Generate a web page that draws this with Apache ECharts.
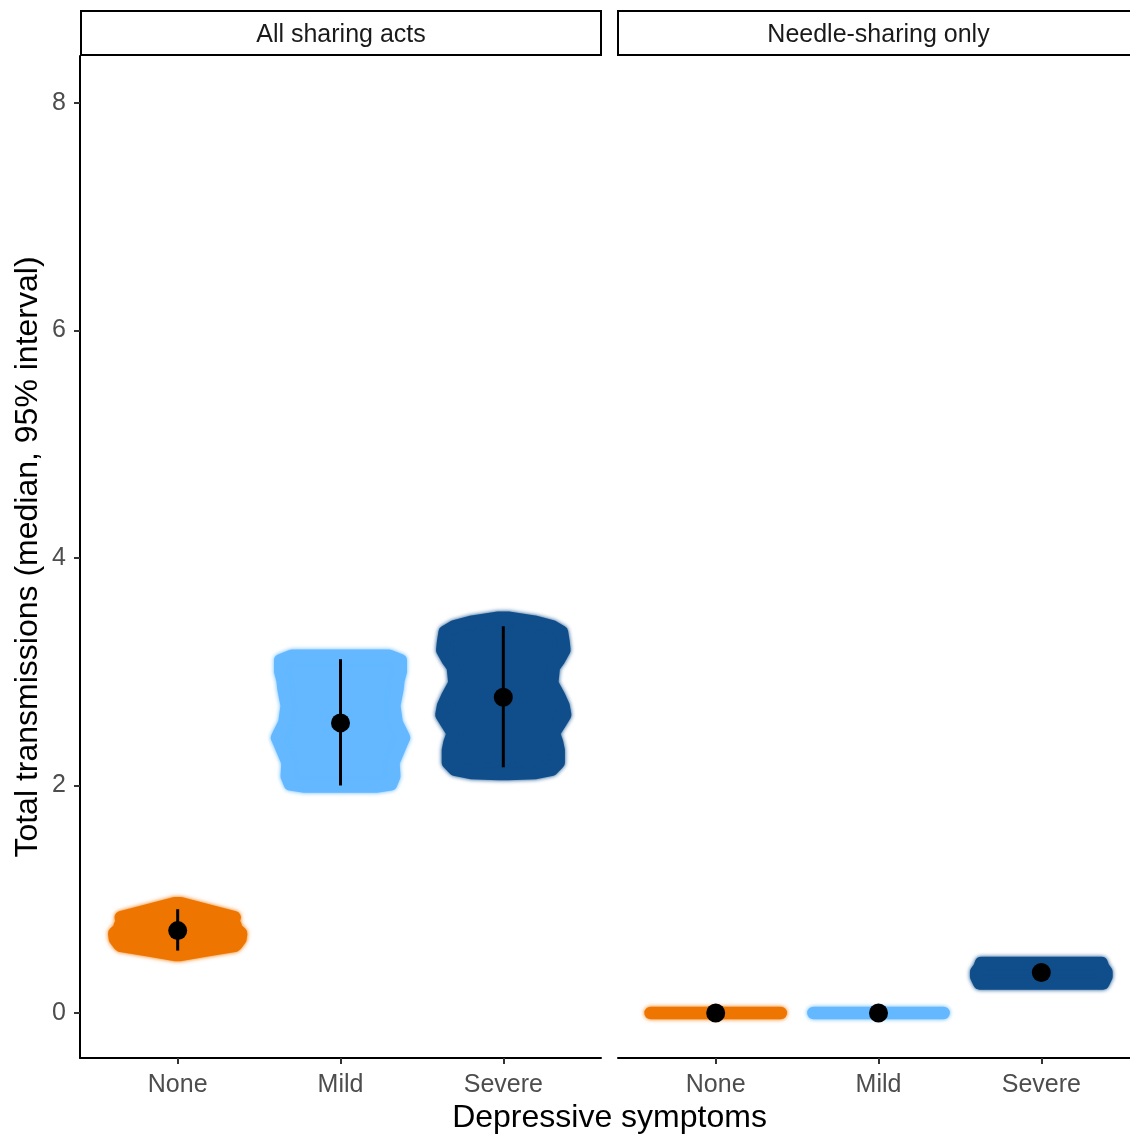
<!DOCTYPE html>
<html>
<head>
<meta charset="utf-8">
<script src="https://cdn.jsdelivr.net/npm/echarts@6/dist/echarts.min.js"></script>
<style>
  html, body { margin: 0; padding: 0; background: #fff; }
  #chart { width: 1130px; height: 1138px; }
</style>
</head>
<body>
<div id="chart"></div>
<script>
// Categories and facets
const categories = ['None', 'Mild', 'Severe'];
const panelTitles = ['All sharing acts', 'Needle-sharing only'];
const yTicks = [0, 2, 4, 6, 8];

// Medians and 95% intervals, all sharing acts
const allMedian = [0.724, 2.55, 2.775];
const allLower = [0.548, 2.0, 2.16];
const allUpper = [0.912, 3.11, 3.40];

// Medians and 95% intervals, needle-sharing only
const needleMedian = [0, 0, 0.356];
const needleLower = [0, 0, 0.30];
const needleUpper = [0, 0, 0.41];

// Outline of each simulation cloud: [transmissions, half-width of the horizontal jitter]
const allNoneCloud = [[0.964, 0.02], [0.90, 0.19], [0.84, 0.35], [0.80, 0.34], [0.77, 0.355], [0.74, 0.36], [0.70, 0.39], [0.65, 0.385], [0.60, 0.36], [0.59, 0.35], [0.55, 0.18], [0.51, 0.02]];
const allMildCloud = [[3.14, 0.30], [3.10, 0.37], [3.0, 0.37], [2.92, 0.355], [2.85, 0.35], [2.70, 0.33], [2.55, 0.345], [2.45, 0.38], [2.42, 0.39], [2.37, 0.375], [2.32, 0.36], [2.2, 0.325], [2.08, 0.33], [2.01, 0.31], [1.99, 0.22]];
const allSevereCloud = [[3.475, 0.03], [3.44, 0.19], [3.40, 0.30], [3.35, 0.36], [3.26, 0.37], [3.19, 0.375], [3.10, 0.34], [3.04, 0.31], [2.90, 0.30], [2.82, 0.33], [2.78, 0.345], [2.70, 0.37], [2.62, 0.38], [2.55, 0.35], [2.46, 0.31], [2.38, 0.33], [2.31, 0.34], [2.20, 0.34], [2.14, 0.30], [2.11, 0.2], [2.10, 0.03]];
const needleNoneCloud = [[0, 0.40]];
const needleMildCloud = [[0, 0.40]];
const needleSevereCloud = [[0.44, 0.37], [0.40, 0.38], [0.36, 0.40], [0.32, 0.40], [0.29, 0.39], [0.26, 0.38]];

const colors = ['#EE7600', '#63B8FF', '#104E8B'];
const FONT = 'Liberation Sans, Arial, Helvetica, sans-serif';

function cloudSeries(gridIdx, pos, profile, color) {
  return {
    type: 'custom',
    xAxisIndex: gridIdx,
    yAxisIndex: gridIdx,
    silent: true,
    z: 1,
    data: profile.map(r => [pos, r[0], r[1]]),
    renderItem(params, api) {
      if (params.dataIndex !== 0) return null;
      const right = profile.map(r => api.coord([pos + r[1], r[0]]));
      const left = profile.slice().reverse().map(r => api.coord([pos - r[1], r[0]]));
      return {
        type: 'polygon',
        shape: { points: right.concat(left) },
        style: {
          fill: color, stroke: color, lineWidth: 12.5, lineJoin: 'round',
          shadowBlur: 4, shadowColor: color
        }
      };
    }
  };
}

function intervalSeries(gridIdx, lower, upper) {
  return {
    type: 'custom',
    xAxisIndex: gridIdx,
    yAxisIndex: gridIdx,
    silent: true,
    z: 3,
    data: lower.map((lo, i) => [i + 1, lo, upper[i]]),
    renderItem(params, api) {
      const p1 = api.coord([api.value(0), api.value(1)]);
      const p2 = api.coord([api.value(0), api.value(2)]);
      return {
        type: 'line',
        shape: { x1: p1[0], y1: p1[1], x2: p2[0], y2: p2[1] },
        style: { stroke: '#000', lineWidth: 3 }
      };
    }
  };
}

function medianSeries(gridIdx, med) {
  return {
    type: 'scatter',
    xAxisIndex: gridIdx,
    yAxisIndex: gridIdx,
    silent: true,
    z: 4,
    symbol: 'circle',
    symbolSize: 19,
    itemStyle: { color: '#000', opacity: 1 },
    data: med.map((m, i) => [i + 1, m])
  };
}

// Panel geometry: the second facet runs past the right edge of the page,
// so its grid is cut at the page edge and its axis range trimmed to keep the same scale.
const gridTop = 56, gridHeight = 1002, panelWidth = 521;
const xMin = 0.4, xMax = 3.6;
const pxPerUnit = panelWidth / (xMax - xMin);
const rightLeft = 618, rightWidth = 1130 - rightLeft;
const rightMax = xMin + rightWidth / pxPerUnit;

function xAxisFor(gridIdx, max) {
  return {
    type: 'value', gridIndex: gridIdx, min: xMin, max: max,
    splitLine: { show: false },
    axisLine: { show: true, onZero: false, lineStyle: { color: '#000', width: 2 } },
    axisTick: { show: true, customValues: [1, 2, 3], length: 6, lineStyle: { color: '#333', width: 2 } },
    axisLabel: {
      show: true, customValues: [1, 2, 3], margin: 15,
      formatter: v => categories[Math.round(v) - 1] || '',
      fontSize: 25, color: '#4D4D4D', fontFamily: FONT
    }
  };
}

const option = {
  animation: false,
  backgroundColor: '#fff',
  grid: [
    { left: 80, top: gridTop, width: panelWidth, height: gridHeight },
    { left: rightLeft, top: gridTop, width: rightWidth, height: gridHeight }
  ],
  xAxis: [xAxisFor(0, xMax), xAxisFor(1, rightMax)],
  yAxis: [
    {
      type: 'value', gridIndex: 0, min: -0.396, max: 8.413,
      splitLine: { show: false },
      axisLine: { show: true, onZero: false, lineStyle: { color: '#000', width: 2 } },
      axisTick: { show: true, customValues: yTicks, length: 6, lineStyle: { color: '#333', width: 2 } },
      axisLabel: { show: true, customValues: yTicks, margin: 14, padding: [4, 0, 0, 0], fontSize: 25, color: '#4D4D4D', fontFamily: FONT }
    },
    {
      type: 'value', gridIndex: 1, min: -0.396, max: 8.413, show: false,
      splitLine: { show: false }
    }
  ],
  series: [
    cloudSeries(0, 1, allNoneCloud, colors[0]),
    cloudSeries(0, 2, allMildCloud, colors[1]),
    cloudSeries(0, 3, allSevereCloud, colors[2]),
    cloudSeries(1, 1, needleNoneCloud, colors[0]),
    cloudSeries(1, 2, needleMildCloud, colors[1]),
    cloudSeries(1, 3, needleSevereCloud, colors[2]),
    intervalSeries(0, allLower, allUpper),
    intervalSeries(1, needleLower, needleUpper),
    medianSeries(0, allMedian),
    medianSeries(1, needleMedian)
  ],
  graphic: [
    // facet strips
    { type: 'rect', shape: { x: 81, y: 11, width: 520, height: 44 }, style: { fill: '#fff', stroke: '#000', lineWidth: 2 } },
    { type: 'text', x: 341, y: 35.5, style: { text: panelTitles[0], fontSize: 25, fontFamily: FONT, fill: '#1A1A1A', align: 'center', verticalAlign: 'middle' } },
    { type: 'rect', shape: { x: 618, y: 11, width: 521, height: 44 }, style: { fill: '#fff', stroke: '#000', lineWidth: 2 } },
    { type: 'text', x: 878.5, y: 35.5, style: { text: panelTitles[1], fontSize: 25, fontFamily: FONT, fill: '#1A1A1A', align: 'center', verticalAlign: 'middle' } },
    // axis titles
    { type: 'text', x: 609.5, y: 1118, style: { text: 'Depressive symptoms', fontSize: 32, fontFamily: FONT, fill: '#000', align: 'center', verticalAlign: 'middle' } },
    { type: 'text', x: 28, y: 557, rotation: Math.PI / 2, style: { text: 'Total transmissions (median, 95% interval)', fontSize: 32, fontFamily: FONT, fill: '#000', align: 'center', verticalAlign: 'middle' } }
  ]
};

const chart = echarts.init(document.getElementById('chart'), null, { renderer: 'canvas' });
chart.setOption(option);
</script>
</body>
</html>
